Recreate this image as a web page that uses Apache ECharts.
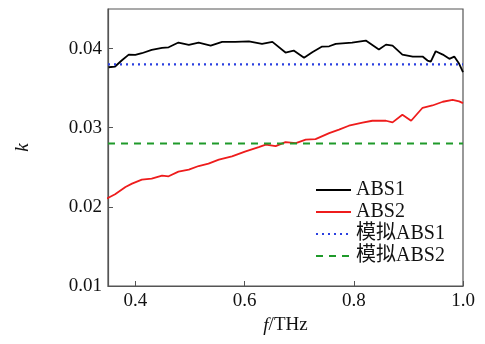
<!DOCTYPE html>
<html><head><meta charset="utf-8">
<script src="https://cdn.jsdelivr.net/npm/echarts@6/dist/echarts.min.js"></script>
<style>html,body{margin:0;padding:0;background:#fff}#c{width:485px;height:344px}</style>
</head><body><div id="c"></div>
<script>
var seriesNames = ['ABS1', 'ABS2', '模拟ABS1', '模拟ABS2'];
var xTicks = [0.4, 0.6, 0.8, 1.0];
var yTicks = [0.01, 0.02, 0.03, 0.04];
var abs1Freq = [0.351,0.363,0.375,0.388,0.400,0.412,0.430,0.449,0.461,0.479,0.498,0.516,0.538,0.559,0.583,0.608,0.632,0.651,0.675,0.690,0.709,0.724,0.742,0.755,0.767,0.797,0.822,0.846,0.859,0.871,0.889,0.908,0.926,0.935,0.941,0.950,0.963,0.975,0.984,0.993,1.0];
var abs1K = [0.03764,0.03773,0.03849,0.03924,0.03921,0.03941,0.03984,0.04009,0.04016,0.04076,0.04047,0.04076,0.04038,0.04084,0.04084,0.04092,0.04059,0.04084,0.03950,0.03975,0.03883,0.03953,0.04025,0.04029,0.04059,0.04076,0.04101,0.03987,0.04050,0.04038,0.03924,0.03899,0.03899,0.03849,0.03836,0.03966,0.03924,0.03870,0.03899,0.03807,0.03701];
var abs2Freq = [0.348,0.363,0.382,0.394,0.412,0.430,0.449,0.461,0.479,0.498,0.516,0.534,0.553,0.577,0.602,0.626,0.639,0.657,0.675,0.694,0.712,0.730,0.755,0.773,0.791,0.816,0.834,0.859,0.871,0.889,0.905,0.926,0.944,0.963,0.981,0.993,1.0];
var abs2K = [0.02105,0.02159,0.02251,0.02294,0.02344,0.02357,0.02395,0.02386,0.02445,0.02470,0.02516,0.02546,0.02596,0.02638,0.02701,0.02755,0.02786,0.02768,0.02818,0.02806,0.02849,0.02856,0.02932,0.02975,0.03025,0.03063,0.03088,0.03088,0.03067,0.03164,0.03088,0.03252,0.03281,0.03328,0.03353,0.03332,0.0331];
var simFreq = [0.35, 1.0];
var sim1K = [0.038, 0.038];
var sim2K = [0.028, 0.028];

function pairs(xs, ys) { return xs.map(function (x, i) { return [x, ys[i]]; }); }

var serif = '"Liberation Serif", "Noto Sans CJK SC", serif';
var chart = echarts.init(document.getElementById('c'), null, { renderer: 'canvas' });
chart.setOption({
  animation: false,
  backgroundColor: '#fff',
  grid: { left: 108, right: 22, top: 9, bottom: 58, show: true, borderColor: '#555', borderWidth: 1.2, containLabel: false },
  legend: {
    orient: 'vertical', left: 310, top: 175, itemGap: 2, itemWidth: 35, itemHeight: 14,
    itemStyle: { opacity: 0 },
    textStyle: { fontFamily: serif, fontSize: 20, color: '#111' },
    data: seriesNames
  },
  xAxis: {
    type: 'value', min: 0.35, max: 1.0,
    name: '{i|f}/THz', nameLocation: 'middle', nameGap: 30,
    nameTextStyle: { fontFamily: serif, fontSize: 19, color: '#111', rich: { i: { fontFamily: serif, fontStyle: 'italic', fontSize: 19, color: '#111' } } },
    axisLine: { show: true, lineStyle: { color: '#555', width: 1.2 } },
    axisTick: { show: true, inside: true, length: 5, customValues: xTicks, lineStyle: { color: '#555' } },
    axisLabel: { customValues: xTicks, fontFamily: serif, fontSize: 19, color: '#111', margin: 6, formatter: function (v) { return v.toFixed(1); } },
    splitLine: { show: false }
  },
  yAxis: {
    type: 'value', min: 0.01, max: 0.045,
    name: '{i|k}', nameLocation: 'middle', nameGap: 75, nameRotate: 90,
    nameTextStyle: { fontFamily: serif, fontSize: 19, color: '#111', rich: { i: { fontFamily: serif, fontStyle: 'italic', fontSize: 19, color: '#111' } } },
    axisLine: { show: true, lineStyle: { color: '#555', width: 1.2 } },
    axisTick: { show: true, inside: true, length: 5, customValues: yTicks, lineStyle: { color: '#555' } },
    axisLabel: { customValues: yTicks, fontFamily: serif, fontSize: 19, color: '#111', margin: 6, formatter: function (v) { return v.toFixed(2); } },
    splitLine: { show: false }
  },
  series: [
    { name: seriesNames[0], type: 'line', symbol: 'none', data: pairs(abs1Freq, abs1K), lineStyle: { color: '#000', width: 1.8 }, itemStyle: { color: '#000' } },
    { name: seriesNames[1], type: 'line', symbol: 'none', data: pairs(abs2Freq, abs2K), lineStyle: { color: '#ee1c1c', width: 1.8 }, itemStyle: { color: '#ee1c1c' } },
    { name: seriesNames[2], type: 'line', symbol: 'none', data: pairs(simFreq, sim1K), lineStyle: { color: '#2a3fe0', width: 2.2, type: [2, 4] }, itemStyle: { color: '#2a3fe0' } },
    { name: seriesNames[3], type: 'line', symbol: 'none', data: pairs(simFreq, sim2K), lineStyle: { color: '#1f9a2a', width: 2, type: [7, 6] }, itemStyle: { color: '#1f9a2a' } }
  ]
});
</script></body></html>
